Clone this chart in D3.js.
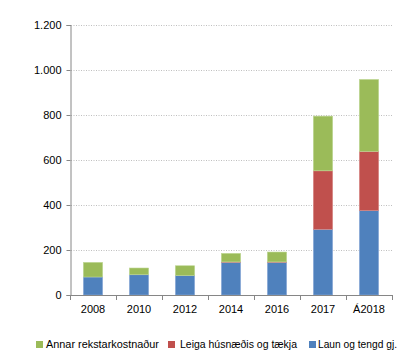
<!DOCTYPE html>
<html><head><meta charset="utf-8">
<script src="https://cdn.jsdelivr.net/npm/d3@7"></script>
<style>body{margin:0;background:#fff}svg{display:block}</style>
</head><body>
<svg id="c" width="412" height="354"></svg>
<script>
const categories = ["2008","2010","2012","2014","2016","2017","Á2018"];
const laun = [80, 90, 86, 145, 145, 292, 375];
const leiga = [0, 0, 0, 2, 2, 260, 263];
const annar = [65, 30, 44, 38, 44, 243, 320];
const yTicks = [0, 200, 400, 600, 800, 1000, 1200];
const seriesNames = ["Laun og tengd gj.", "Leiga húsnæðis og tækja", "Annar rekstarkostnaður"];
const seriesColors = ["#4F81BD", "#C0504D", "#9BBB59"];
const seriesStroke = ["#8FAEDA", "#D98A88", "#BFD895"];

const svg = d3.select("#c");
const font = "'Liberation Sans', Arial, sans-serif";
const x = d3.scaleBand().domain(categories).range([70, 392]).paddingInner(0.58).paddingOuter(0.29);
const y = d3.scaleLinear().domain([0, 1200]).range([295, 25]);

// gridlines
svg.append("g").selectAll("line").data(yTicks.slice(1)).join("line")
  .attr("x1", 71).attr("x2", 392).attr("y1", d => Math.round(y(d)) + 0.5).attr("y2", d => Math.round(y(d)) + 0.5)
  .attr("stroke", "#BFBFBF").attr("stroke-dasharray", "1,1.5");

const rows = categories.map((c, i) => ({cat: c, s0: laun[i], s1: leiga[i], s2: annar[i]}));
const stack = d3.stack().keys(["s0", "s1", "s2"])(rows);
svg.append("g").selectAll("g").data(stack).join("g")
  .attr("fill", (d, i) => seriesColors[i])
  .attr("stroke", (d, i) => seriesStroke[i])
  .selectAll("rect").data(d => d).join("rect")
  .attr("x", d => x(d.data.cat)).attr("width", x.bandwidth())
  .attr("y", d => y(d[1])).attr("height", d => Math.max(0, y(d[0]) - y(d[1])))
  .attr("stroke-width", 0.6);

// y axis
const yAxis = d3.axisLeft(y).tickValues(yTicks).tickSize(4).tickPadding(5)
  .tickFormat(d => d3.format(",")(d).replace(/,/g, "."));
const gy = svg.append("g").attr("transform", "translate(70.5,0)").call(yAxis);
gy.select(".domain").attr("stroke", "#868686");
gy.selectAll(".tick line").attr("stroke", "#868686");
gy.selectAll("text").attr("font-family", font).attr("font-size", 11).attr("fill", "#000");

// x axis
const xAxis = d3.axisBottom(x).tickSize(0).tickPadding(10);
const gx = svg.append("g").attr("transform", "translate(0,295.5)").call(xAxis);
gx.select(".domain").attr("d", "M70,0H392").attr("stroke", "#868686");
gx.selectAll("text").attr("font-family", font).attr("font-size", 11).attr("fill", "#000");
const bounds = categories.map((c, i) => i === 0 ? 70 : x(c) - x.step() * x.paddingInner() / 2);
bounds.push(392);
svg.append("g").selectAll("line").data(bounds).join("line")
  .attr("x1", d => Math.round(d) + 0.5).attr("x2", d => Math.round(d) + 0.5)
  .attr("y1", 295).attr("y2", 300).attr("stroke", "#868686");

// legend
const legendOrder = [2, 1, 0];
const legX = [36, 168, 309];
const legTextX = [46, 180, 318];
const legW = [113, 117, 79];
const lg = svg.append("g");
legendOrder.forEach((si, k) => {
  lg.append("rect").attr("x", legX[k]).attr("y", 341).attr("width", 7).attr("height", 7).attr("fill", seriesColors[si]);
  lg.append("text").attr("x", legTextX[k]).attr("y", 348).text(seriesNames[si])
    .attr("textLength", legW[k]).attr("lengthAdjust", "spacingAndGlyphs")
    .attr("font-family", font).attr("font-size", 11).attr("fill", "#000");
});
</script>
</body></html>
